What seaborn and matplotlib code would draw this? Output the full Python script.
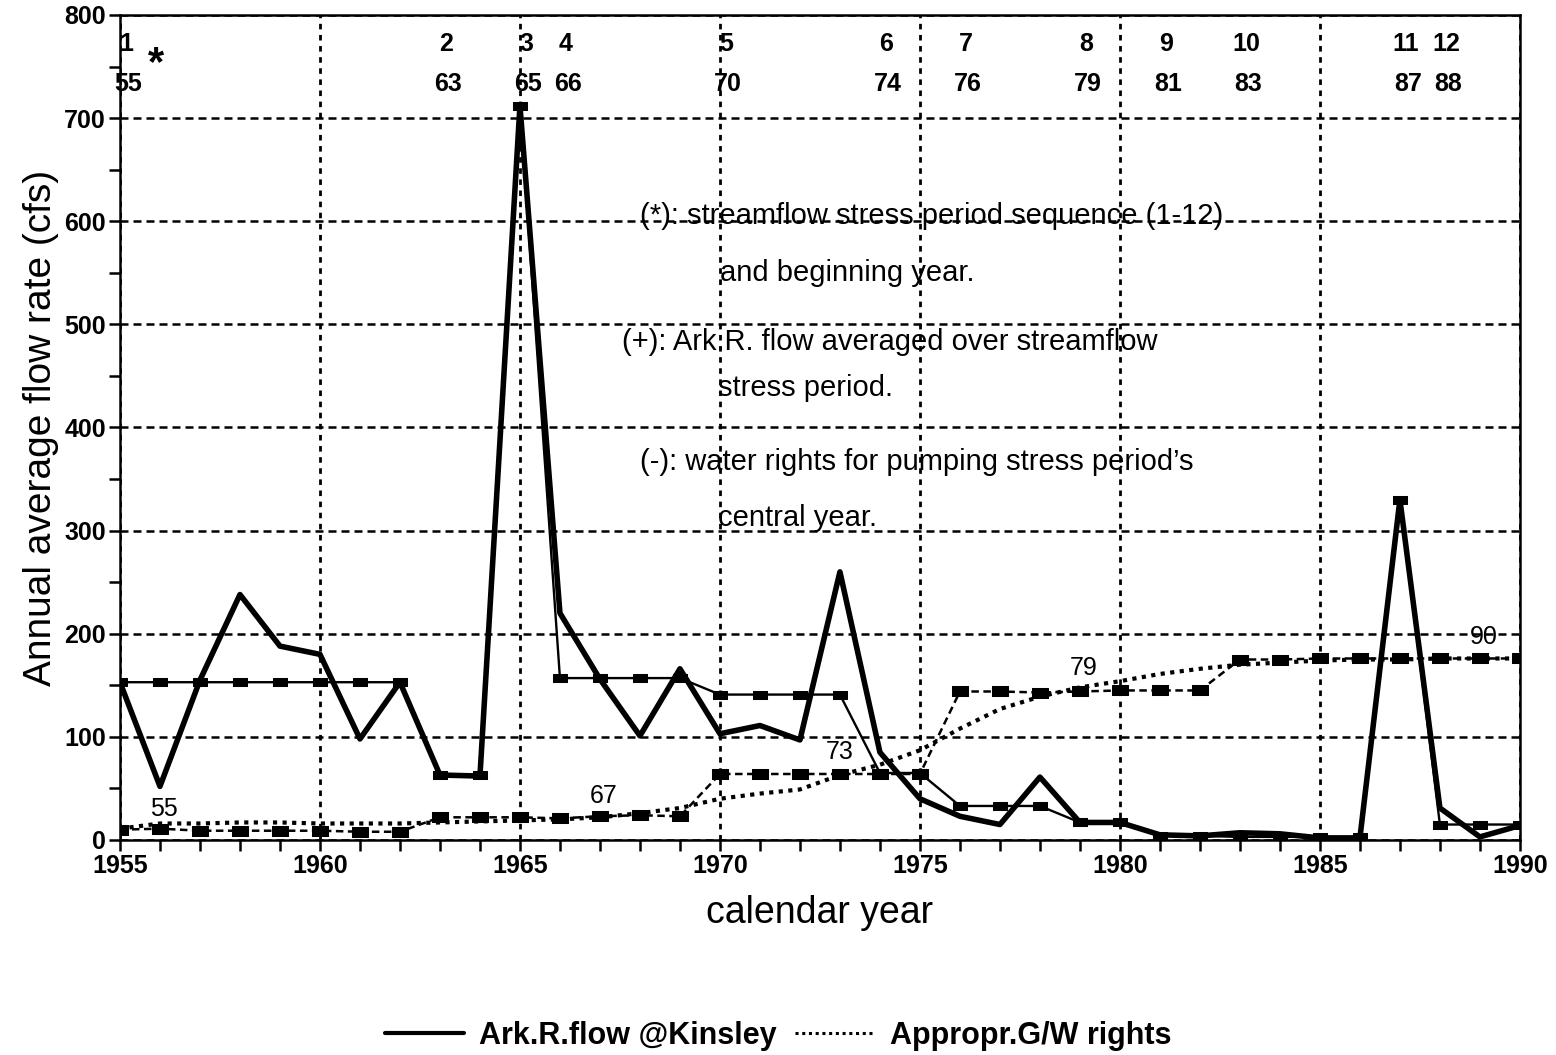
import matplotlib
matplotlib.use("Agg")
import matplotlib.pyplot as plt
from matplotlib.lines import Line2D
from matplotlib.ticker import MultipleLocator
import pandas as pd
import seaborn as sns

# ---------------------------------------------------------------- data
years = list(range(1955, 1991))

# annual Arkansas River flow at Kinsley (cfs)
ark_flow = [153, 52, 155, 238, 188, 180, 98, 153, 63, 62,
            712, 220, 156, 101, 166, 103, 111, 97, 260, 85,
            40, 23, 15, 61, 17, 17, 5, 4, 7, 6,
            2, 2, 330, 31, 3, 14]

# (+) flow averaged over each streamflow stress period
period_avg_flow = [153, 153, 153, 153, 153, 153, 153, 153, 63, 63,
                   712, 157, 157, 157, 157, 141, 141, 141, 141, 65,
                   65, 33, 33, 33, 17, 17, 4, 4, 3, 3,
                   3, 3, 330, 15, 15, 15]

# (-) water rights for the pumping stress period's central year
rights_period = [10, 11, 9, 9, 9, 9, 8, 8, 22, 22,
                 22, 21, 23, 24, 23, 64, 64, 64, 64, 64,
                 64, 144, 144, 143, 144, 145, 145, 145, 175, 175,
                 176, 176, 176, 176, 176, 176]

# appropriated groundwater rights (cfs)
gw_rights = [11, 16, 16, 17, 17, 16, 16, 16, 17, 18,
             19, 20, 22, 26, 31, 40, 45, 49, 63, 73,
             87, 108, 127, 139, 148, 154, 161, 166, 170, 172,
             174, 175, 175, 176, 176, 176]

# streamflow stress periods (sequence number and beginning year)
period_numbers = ["1", "2", "3", "4", "5", "6", "7", "8", "9", "10", "11", "12"]
period_start_years = [1955, 1963, 1965, 1966, 1970, 1974, 1976, 1979, 1981, 1983, 1987, 1988]
period_year_labels = ["55", "63", "65", "66", "70", "74", "76", "79", "81", "83", "87", "88"]

# year tags written along the groundwater-rights curve
gw_tag_text = ["55", "67", "73", "79", "90"]
gw_tag_x = [1956.1, 1967.1, 1973.0, 1979.1, 1989.1]
gw_tag_y = [30, 43, 85, 167, 197]

notes = [
    ("(*): streamflow stress period sequence (1-12)", 1968.0, 605),
    ("and beginning year.", 1970.0, 550),
    ("(+): Ark.R. flow averaged over streamflow", 1967.55, 483),
    ("stress period.", 1969.95, 438),
    ("(-): water rights for pumping stress period\u2019s", 1968.0, 367),
    ("central year.", 1969.95, 312),
]

df = pd.DataFrame({
    "year": years,
    "flow": ark_flow,
    "period_avg": period_avg_flow,
    "rights_period": rights_period,
    "gw_rights": gw_rights,
})

# ---------------------------------------------------------------- style
sns.set_theme(style="ticks")
plt.rcParams["font.family"] = ["Liberation Sans", "DejaVu Sans"]
plt.rcParams.update({
    "axes.linewidth": 1.8,
    "text.color": "black",
    "axes.labelcolor": "black",
    "axes.edgecolor": "black",
    "xtick.color": "black",
    "ytick.color": "black",
    "xtick.labelcolor": "black",
    "ytick.labelcolor": "black",
})

fig = plt.figure(figsize=(15.56, 10.55), dpi=100)
ax = fig.add_axes([0.0771, 0.2038, 0.8997, 0.782])

rect_marker = [(-1.3, -0.8), (1.3, -0.8), (1.3, 0.8), (-1.3, 0.8), (-1.3, -0.8)]

# gridlines
ax.set_axisbelow(True)
ax.xaxis.grid(True, color="black", linewidth=2.0, linestyle=(0, (2.0, 2.0)))
ax.yaxis.grid(True, color="black", linewidth=1.8, linestyle=(0, (3.2, 2.0)))

# series
sns.lineplot(data=df, x="year", y="gw_rights", ax=ax, color="black",
             linewidth=3.0, linestyle=(0, (1.0, 1.3)), legend=False, zorder=3)
sns.lineplot(data=df, x="year", y="rights_period", ax=ax, color="black",
             linewidth=1.8, linestyle=(0, (3.0, 1.8)), marker=rect_marker,
             markersize=11, markeredgecolor="black", markerfacecolor="black",
             legend=False, zorder=3)
sns.lineplot(data=df, x="year", y="period_avg", ax=ax, color="black",
             linewidth=1.7, marker=rect_marker, markersize=10,
             markeredgecolor="black", markerfacecolor="black",
             legend=False, zorder=4)
sns.lineplot(data=df, x="year", y="flow", ax=ax, color="black",
             linewidth=4.0, legend=False, zorder=5)

# axes
ax.set_xlim(1955, 1990)
ax.set_ylim(0, 800)
ax.xaxis.set_major_locator(MultipleLocator(5))
ax.xaxis.set_minor_locator(MultipleLocator(1))
ax.yaxis.set_major_locator(MultipleLocator(100))
ax.yaxis.set_minor_locator(MultipleLocator(50))
ax.tick_params(axis="both", which="both", direction="out", color="black",
               width=1.8, length=8)
ax.tick_params(axis="both", which="major", labelsize=18, pad=2)
for lab in ax.get_xticklabels() + ax.get_yticklabels():
    lab.set_fontweight("semibold")
for side in ("top", "right", "left", "bottom"):
    ax.spines[side].set_visible(True)
    ax.spines[side].set_color("black")

ax.set_xlabel("calendar year", fontsize=27, labelpad=12)
ax.set_ylabel("Annual average flow rate (cfs)", fontsize=28, labelpad=4)

# stress period sequence and beginning year
for num, yr, ylab in zip(period_numbers, period_start_years, period_year_labels):
    ax.text(yr + 0.15, 772, num, ha="center", va="center", fontsize=18,
            fontweight="semibold", zorder=6)
    ax.text(yr + 0.2, 733, ylab, ha="center", va="center", fontsize=18,
            fontweight="semibold", zorder=6)
ax.text(1955.9, 752, "*", ha="center", va="center", fontsize=30,
        fontweight="bold", zorder=6)

# year tags on the groundwater-rights curve
for txt, tx, ty in zip(gw_tag_text, gw_tag_x, gw_tag_y):
    ax.text(tx, ty, txt, ha="center", va="center", fontsize=18, zorder=6)

# explanatory notes
for txt, tx, ty in notes:
    ax.text(tx, ty, txt, ha="left", va="center", fontsize=21, zorder=6)

# legend
handles = [
    Line2D([], [], color="black", linewidth=3.0),
    Line2D([], [], color="black", linewidth=2.2, linestyle=(0, (1, 1.2))),
]
labels = ["Ark.R.flow @Kinsley", "Appropr.G/W rights"]
fig.legend(handles, labels, loc="center", bbox_to_anchor=(0.5, 0.018),
           ncol=2, frameon=False, handlelength=2.6, handletextpad=0.5,
           columnspacing=0.6, prop={"size": 22, "weight": "bold"})

fig.savefig("out.png", dpi=100)
